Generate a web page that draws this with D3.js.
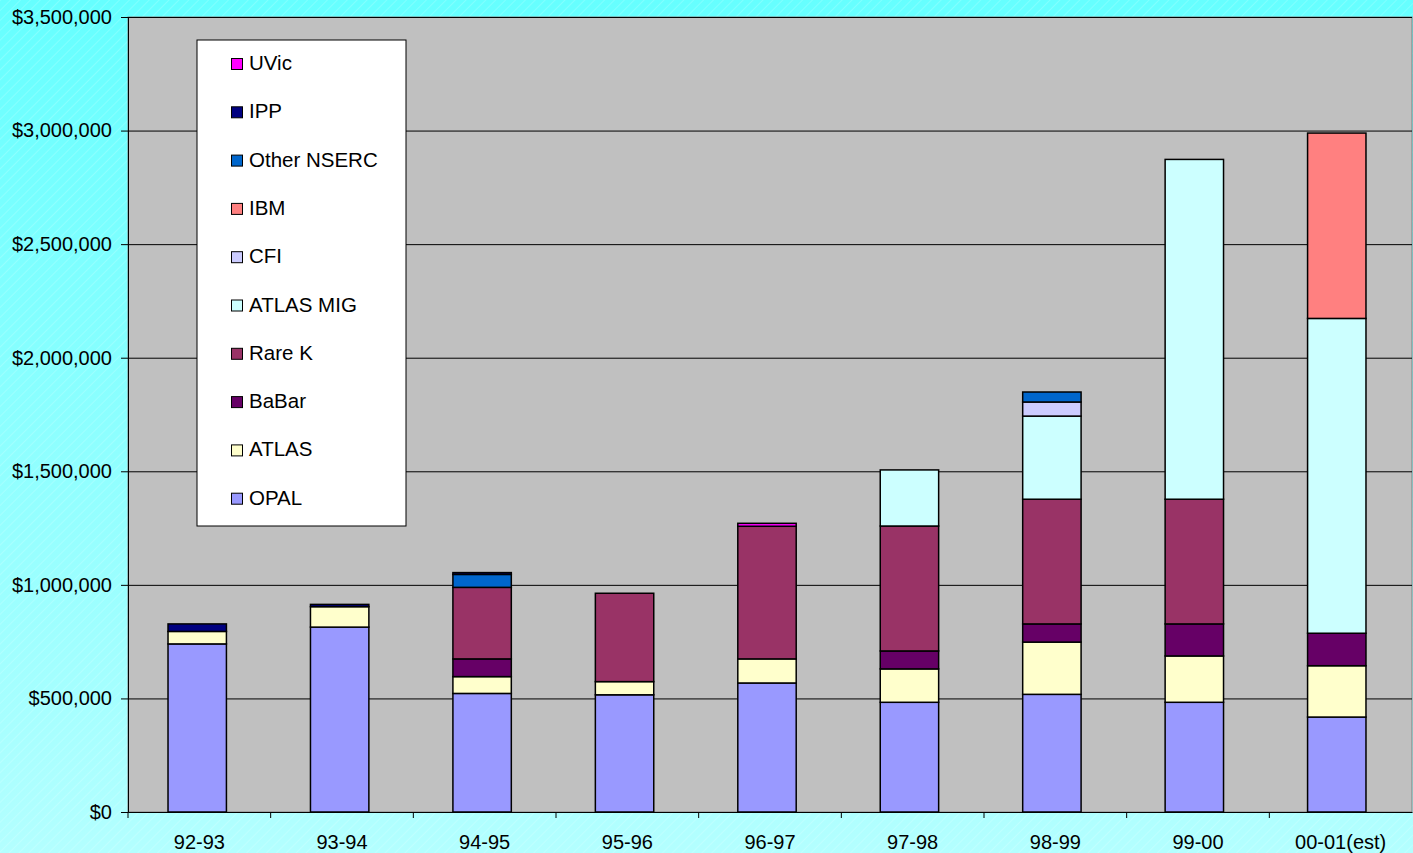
<!DOCTYPE html>
<html>
<head>
<meta charset="utf-8">
<script src="https://cdn.jsdelivr.net/npm/d3@7"></script>
<style>
  body { margin: 0; overflow: hidden; }
  svg { display: block; font-family: "Liberation Sans", Arial, sans-serif; }
</style>
</head>
<body>
<svg id="chart" width="1413" height="853"></svg>
<script>
// fiscal years
var years = ["92-93", "93-94", "94-95", "95-96", "96-97", "97-98", "98-99", "99-00", "00-01(est)"];

// funding per source, dollars (bottom of stack first)
var opal      = [740000, 814000, 522000, 516000, 568000, 483000, 518000, 483000, 418000];
var atlas     = [55000, 90000, 74000, 58000, 106000, 147000, 230000, 204000, 226000];
var babar     = [0, 0, 78000, 0, 0, 79000, 80000, 141000, 143000];
var rareK     = [0, 0, 315000, 389000, 584000, 550000, 549000, 549000, 0];
var atlasMig  = [0, 0, 0, 0, 0, 247000, 366000, 1496000, 1386000];
var cfi       = [0, 0, 0, 0, 0, 0, 62000, 0, 0];
var ibm       = [0, 0, 0, 0, 0, 0, 0, 0, 816000];
var otherNserc= [0, 0, 57000, 0, 0, 0, 44000, 0, 0];
var ipp       = [33000, 10000, 8000, 0, 0, 0, 0, 0, 0];
var uvic      = [0, 0, 0, 0, 13000, 0, 0, 0, 0];

var seriesNames = ["OPAL", "ATLAS", "BaBar", "Rare K", "ATLAS MIG", "CFI", "IBM", "Other NSERC", "IPP", "UVic"];
var seriesData = [opal, atlas, babar, rareK, atlasMig, cfi, ibm, otherNserc, ipp, uvic];
var colors = ["#9999ff", "#ffffcc", "#660066", "#993366", "#ccffff", "#ccccff", "#ff8080", "#0066cc", "#000080", "#ff00ff"];

var yTicks = [0, 500000, 1000000, 1500000, 2000000, 2500000, 3000000, 3500000];

var W = 1413, H = 853;
var margin = {top: 17, right: 1, bottom: 41, left: 128};

var svg = d3.select("#chart");
var defs = svg.append("defs");

// background gradient + faint diagonal stripes
var grad = defs.append("linearGradient").attr("id", "bg")
  .attr("x1", 0).attr("y1", 0).attr("x2", 0).attr("y2", 1);
grad.append("stop").attr("offset", "0%").attr("stop-color", "#66ffff");
grad.append("stop").attr("offset", "100%").attr("stop-color", "#b3ffff");

var pat = defs.append("pattern").attr("id", "stripes")
  .attr("width", 7).attr("height", 7)
  .attr("patternUnits", "userSpaceOnUse")
  .attr("patternTransform", "rotate(45)");
pat.append("line").attr("x1", 0).attr("y1", 0).attr("x2", 0).attr("y2", 7)
  .attr("stroke", "#ffffff").attr("stroke-width", 1).attr("stroke-opacity", 0.35);

svg.append("rect").attr("width", W).attr("height", H).attr("fill", "url(#bg)");
svg.append("rect").attr("width", W).attr("height", H).attr("fill", "url(#stripes)");

// bars sit a touch left of the category slots, like the original
var x = d3.scaleBand().domain(years)
  .range([126, 1408])
  .paddingInner(0.59).paddingOuter(0.295);

var y = d3.scaleLinear().domain([0, 3500000]).range([H - margin.bottom, margin.top]);

// plot area
svg.append("rect")
  .attr("x", margin.left).attr("y", margin.top)
  .attr("width", W - margin.right - margin.left)
  .attr("height", y(0) - margin.top)
  .attr("fill", "#c0c0c0")
  .attr("stroke", "#808080").attr("stroke-width", 1);

// gridlines
svg.append("g").selectAll("line")
  .data(yTicks.slice(1))
  .join("line")
  .attr("x1", margin.left).attr("x2", W - margin.right)
  .attr("y1", function(d) { return y(d) + 0.5; })
  .attr("y2", function(d) { return y(d) + 0.5; })
  .attr("stroke", "#000").attr("stroke-width", 1);

// stack
var table = years.map(function(yr, i) {
  var row = {year: yr};
  seriesNames.forEach(function(n, j) { row[n] = seriesData[j][i]; });
  return row;
});
var stacked = d3.stack().keys(seriesNames)(table);

svg.append("g").selectAll("g")
  .data(stacked)
  .join("g")
  .attr("fill", function(d, i) { return colors[i]; })
  .selectAll("rect")
  .data(function(d) { return d.filter(function(p) { return p[1] - p[0] > 0; }); })
  .join("rect")
  .attr("x", function(d) { return x(d.data.year); })
  .attr("y", function(d) { return y(d[1]); })
  .attr("width", x.bandwidth())
  .attr("height", function(d) { return y(d[0]) - y(d[1]); })
  .attr("stroke", "#000").attr("stroke-width", 1.5);

// y axis
var fmt = function(d) { return "$" + d3.format(",")(d); };
var yAxis = svg.append("g")
  .attr("transform", "translate(" + margin.left + ",0)")
  .call(d3.axisLeft(y).tickValues(yTicks).tickFormat(fmt).tickSize(7).tickPadding(9));
yAxis.select(".domain").attr("stroke", "#000");
yAxis.selectAll("text").attr("font-size", 20).attr("fill", "#000")
  .attr("font-family", "Liberation Sans, Arial, sans-serif");

// x axis (labels centred in each slot)
var xSlot = d3.scaleBand().domain(years).range([margin.left, W - margin.right]);
var xAxis = svg.append("g")
  .attr("transform", "translate(0," + y(0) + ")")
  .call(d3.axisBottom(xSlot).tickSize(0).tickPadding(23));
xAxis.select(".domain").attr("stroke", "#000");
xAxis.selectAll("text").attr("font-size", 20).attr("fill", "#000")
  .attr("font-family", "Liberation Sans, Arial, sans-serif");

// category boundary ticks
svg.append("g").selectAll("line")
  .data(years)
  .join("line")
  .attr("x1", function(d) { return xSlot(d); }).attr("x2", function(d) { return xSlot(d); })
  .attr("y1", y(0)).attr("y2", y(0) + 6)
  .attr("stroke", "#000");

// legend
var lg = svg.append("g").attr("transform", "translate(197,40)");
lg.append("rect").attr("width", 209).attr("height", 486)
  .attr("fill", "#fff").attr("stroke", "#000").attr("stroke-width", 1);

var legendOrder = seriesNames.map(function(n, i) { return i; }).reverse();
var items = lg.selectAll("g.item")
  .data(legendOrder)
  .join("g")
  .attr("class", "item")
  .attr("transform", function(d, k) { return "translate(0," + (23 + k * 48.3) + ")"; });
items.append("rect")
  .attr("x", 34.5).attr("y", -4.5).attr("width", 11).attr("height", 11)
  .attr("fill", function(d) { return colors[d]; })
  .attr("stroke", "#000").attr("stroke-width", 1);
items.append("text")
  .attr("x", 52).attr("y", 7)
  .attr("font-size", 20.5)
  .text(function(d) { return seriesNames[d]; });
</script>
</body>
</html>
